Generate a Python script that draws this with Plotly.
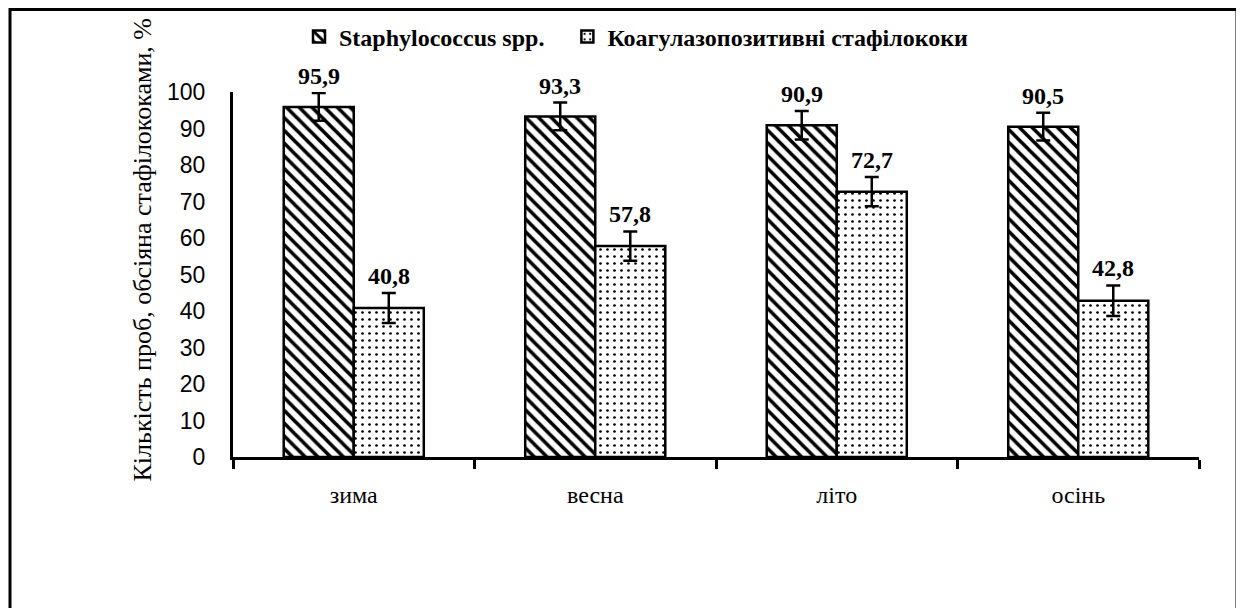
import plotly.graph_objects as go

categories = ["зима", "весна", "літо", "осінь"]
staph_values = [95.9, 93.3, 90.9, 90.5]
coag_values = [40.8, 57.8, 72.7, 42.8]
staph_err = [3.8, 3.8, 3.9, 3.8]
coag_err = [4.1, 4.0, 4.0, 4.2]
staph_labels = ["95,9", "93,3", "90,9", "90,5"]
coag_labels = ["40,8", "57,8", "72,7", "42,8"]
series_names = ["Staphylococcus spp.", "Коагулазопозитивні стафілококи"]
y_title = "Кількість проб, обсіяна стафілококами, %"
y_ticks = list(range(0, 101, 10))

SERIF = "Liberation Serif, Times New Roman, serif"
SANS = "Liberation Sans, Arial, sans-serif"

OFF = 8  # page body margin
W, H = 1236, 600
L, T = 233 - OFF, 92 - OFF
R = W - (1199 - OFF)
B = H - (457 - OFF)

fig = go.Figure()
fig.add_trace(go.Bar(
    x=categories, y=staph_values, name=series_names[0] + "\u00a0\u00a0\u00a0",
    marker=dict(color="white", line=dict(color="black", width=2.5),
                pattern=dict(shape="\\", fgcolor="black", bgcolor="white",
                             size=9, solidity=0.4, fillmode="replace")),
    error_y=dict(type="data", array=staph_err, visible=True,
                 color="black", thickness=2.5, width=7),
))
fig.add_trace(go.Bar(
    x=categories, y=coag_values, name=series_names[1],
    marker=dict(color="white", line=dict(color="black", width=2.5),
                pattern=dict(shape=".", fgcolor="black", bgcolor="white",
                             size=7, solidity=0.12, fillmode="replace")),
    error_y=dict(type="data", array=coag_err, visible=True,
                 color="black", thickness=2.5, width=7),
))

bar_half = 35
for cat, v, e, lab in zip(categories, staph_values, staph_err, staph_labels):
    fig.add_annotation(x=cat, y=v + e, text=lab, showarrow=False,
                       xshift=-bar_half, yanchor="bottom", yshift=2,
                       font=dict(family=SERIF, size=24, color="black", weight="bold"))
for cat, v, e, lab in zip(categories, coag_values, coag_err, coag_labels):
    fig.add_annotation(x=cat, y=v + e, text=lab, showarrow=False,
                       xshift=bar_half, yanchor="bottom", yshift=2,
                       font=dict(family=SERIF, size=24, color="black", weight="bold"))

pw = W - L - R
ph = H - T - B
def px_x(px):
    return (px - OFF - L) / pw
def px_y(py):
    return (H - B - (py - OFF)) / ph

fig.add_annotation(xref="paper", yref="paper", x=px_x(125), y=px_y(250),
                   text=y_title, textangle=-90, showarrow=False,
                   font=dict(family=SERIF, size=26, color="black"))

fig.add_shape(type="rect", xref="paper", yref="paper",
              x0=px_x(10), x1=px_x(1237), y0=px_y(640), y1=px_y(9.5),
              line=dict(color="black", width=3), fillcolor="rgba(0,0,0,0)")

fig.update_layout(
    width=W, height=H,
    margin=dict(l=L, r=R, t=T, b=B, autoexpand=False),
    paper_bgcolor="white", plot_bgcolor="white",
    barmode="group", bargap=0.42, bargroupgap=0,
    showlegend=True,
    legend=dict(orientation="h", x=px_x(299), xanchor="left",
                y=px_y(37), yanchor="middle",
                font=dict(family=SERIF, size=24, color="black", weight="bold"),
                itemwidth=30, tracegroupgap=0, bgcolor="rgba(0,0,0,0)"),
    xaxis=dict(type="category", showline=True, linecolor="black", linewidth=3,
               ticks="outside", tickson="boundaries", ticklen=9, tickwidth=2.5,
               tickcolor="black", showgrid=False, zeroline=False,
               ticklabelstandoff=14,
               tickfont=dict(family=SERIF, size=24, color="black")),
    yaxis=dict(range=[0, 100], tickvals=y_ticks, showline=True, linecolor="black",
               linewidth=3, ticks="", showgrid=False, zeroline=False,
               ticklabelstandoff=20,
               tickfont=dict(family=SANS, size=23, color="black")),
)

fig.write_html("out.html")
